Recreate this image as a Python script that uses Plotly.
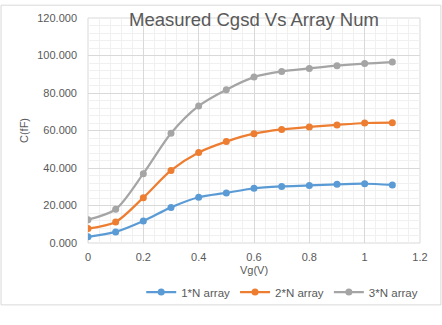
import plotly.graph_objects as go

vg = [0, 0.1, 0.2, 0.3, 0.4, 0.5, 0.6, 0.7, 0.8, 0.9, 1.0, 1.1]
n1 = [3.3, 5.9, 11.7, 19.0, 24.4, 26.7, 29.2, 30.2, 30.7, 31.3, 31.6, 31.0]
n2 = [7.7, 11.2, 24.2, 38.7, 48.3, 54.1, 58.3, 60.6, 61.9, 63.0, 64.0, 64.2]
n3 = [12.4, 18.0, 37.0, 58.5, 73.1, 81.8, 88.5, 91.5, 93.1, 94.6, 95.7, 96.5]
names = ["1*N array", "2*N array", "3*N array"]
colors = ["#5B9BD5", "#ED7D31", "#A5A5A5"]

fig = go.Figure()
for ys, nm, c in zip([n1, n2, n3], names, colors):
    fig.add_trace(go.Scatter(x=vg, y=ys, name=nm, mode="lines+markers",
                             line=dict(color=c, width=2.25, shape="spline", smoothing=0.8),
                             marker=dict(color=c, size=7)))

axfont = dict(family="Liberation Sans, Arial, sans-serif", size=11, color="#595959")
legfont = dict(family="Liberation Sans, Arial, sans-serif", size=11.5, color="#595959")
fig.update_layout(
    width=442, height=325,
    margin=dict(l=88, r=22, t=14, b=82),
    paper_bgcolor="white", plot_bgcolor="white",
    font=axfont,
    title=dict(text="Measured Cgsd Vs Array Num", x=0.5, xref="paper", xanchor="center",
               y=1 - 20 / 325, yanchor="middle",
               font=dict(family="Liberation Sans, Arial, sans-serif", size=18.5, color="#595959")),
    xaxis=dict(range=[0, 1.2], dtick=0.2, tick0=0, showgrid=True, gridcolor="#D9D9D9",
               gridwidth=1, zeroline=False, showline=False,
               minor=dict(dtick=0.04, showgrid=True, gridcolor="#F0F0F0", gridwidth=1),
               tickfont=axfont, ticks="", ticklabelstandoff=6,
               title=dict(text="Vg(V)", font=axfont, standoff=4)),
    yaxis=dict(range=[0, 120], dtick=20, tick0=0, showgrid=True, gridcolor="#D9D9D9",
               gridwidth=1, zeroline=False, showline=False, tickformat=".3f",
               minor=dict(dtick=4, showgrid=True, gridcolor="#F0F0F0", gridwidth=1),
               tickfont=axfont, ticks="", ticklabelstandoff=10,
               title=dict(text="C(fF)", font=axfont, standoff=6)),
    legend=dict(orientation="h", x=0.585, xanchor="center", y=-0.218, yanchor="middle",
                font=legfont, bgcolor="rgba(0,0,0,0)"),
    showlegend=True,
)
fig.add_shape(type="rect", xref="paper", yref="paper",
              x0=-0.262, x1=1.063, y0=-0.275, y1=1.057,
              line=dict(color="#D9D9D9", width=1), fillcolor="rgba(0,0,0,0)", layer="below")
for x0, x1, y0, y1 in [(1, 1, 0, 1), (0, 1, 1, 1), (0, 0, 0, 1), (0, 1, 0, 0)]:
    fig.add_shape(type="line", xref="paper", yref="paper", x0=x0, x1=x1, y0=y0, y1=y1,
                  line=dict(color="#D9D9D9", width=1), layer="below")

fig.write_html("out.html")
